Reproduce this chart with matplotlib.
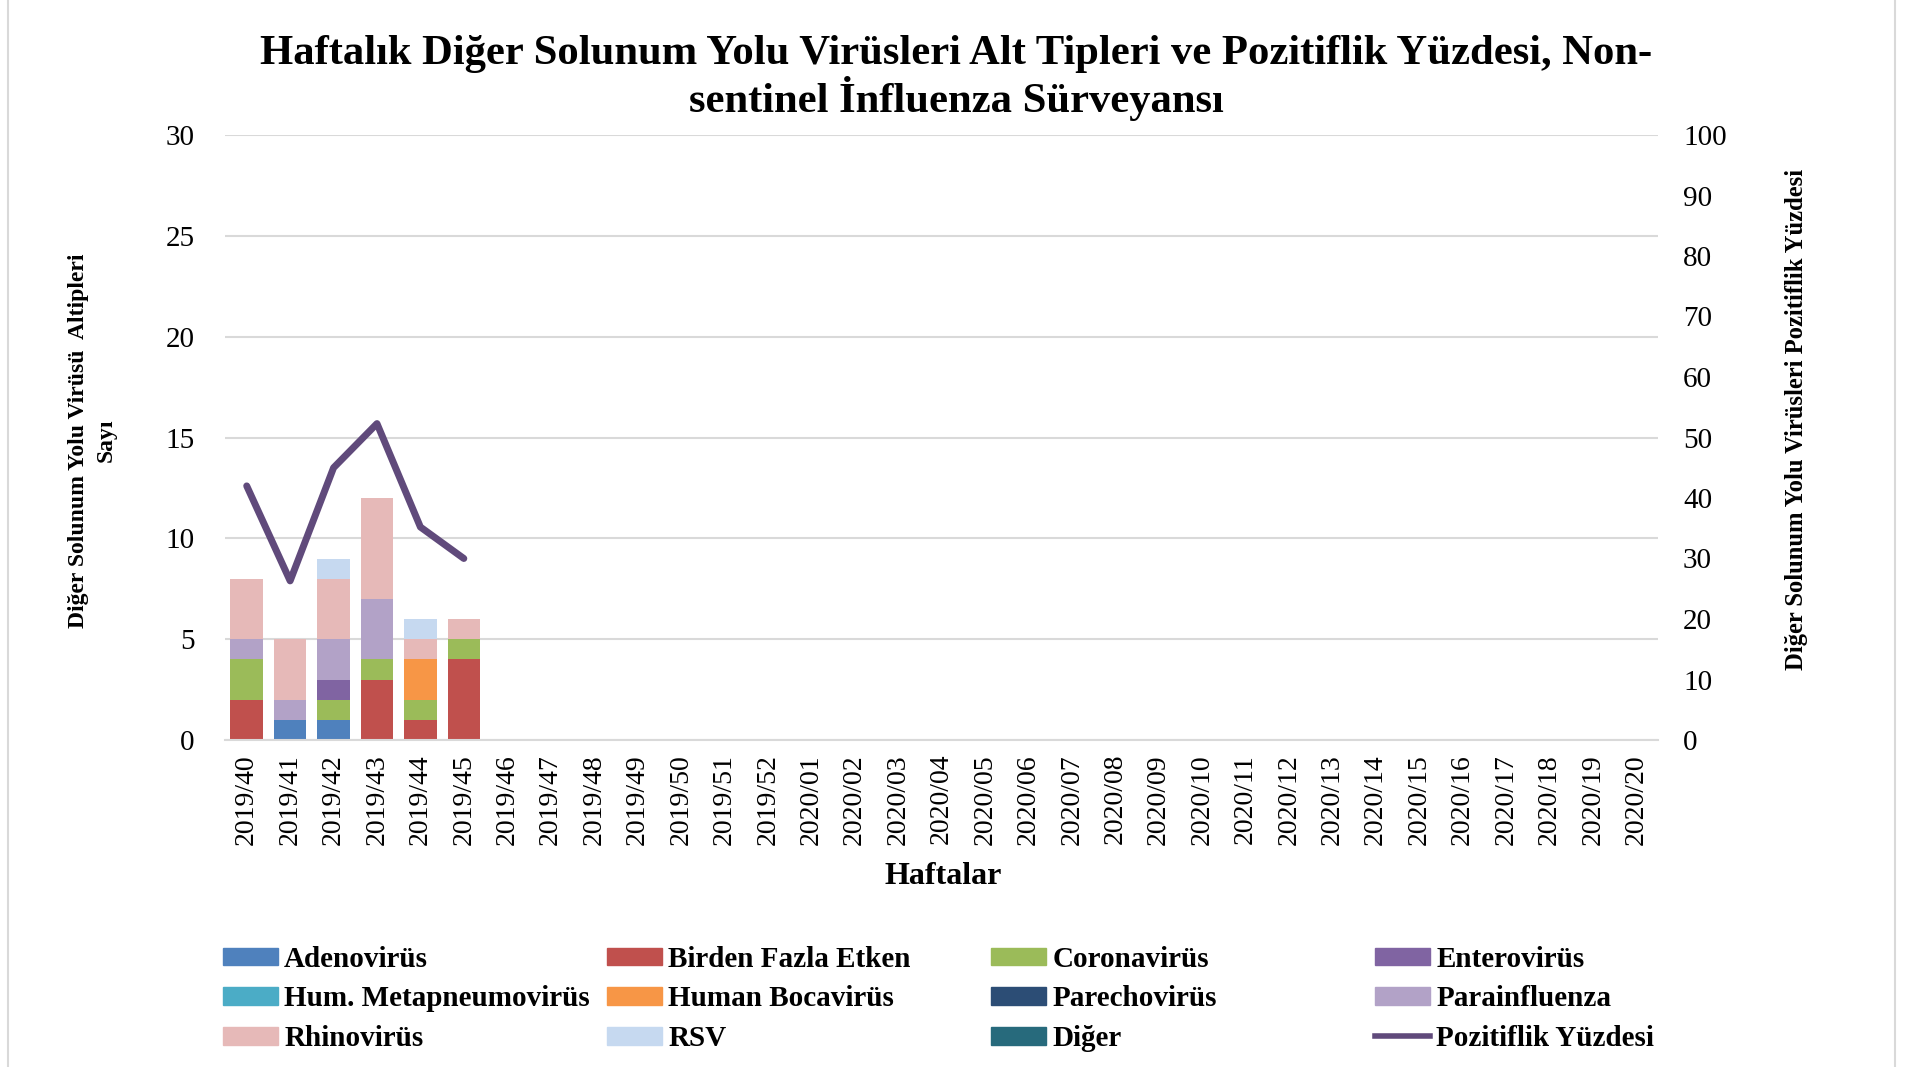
import matplotlib.pyplot as plt
import numpy as np
from matplotlib.patches import Rectangle
from matplotlib.lines import Line2D

weeks = ['2019/%02d' % w for w in range(40, 53)] + ['2020/%02d' % w for w in range(1, 21)]

series_names = ['Adenovirüs', 'Birden Fazla Etken', 'Coronavirüs', 'Enterovirüs',
                'Hum. Metapneumovirüs', 'Human Bocavirüs', 'Parechovirüs', 'Parainfluenza',
                'Rhinovirüs', 'RSV', 'Diğer']
colors = ['#4F81BD', '#C0504D', '#9BBB59', '#8064A2', '#4BACC6', '#F79646',
          '#2C4D75', '#B2A2C7', '#E6B9B8', '#C6D9F0', '#276A7C']

# values for the first six weeks (2019/40 - 2019/45)
adeno      = [0, 1, 1, 0, 0, 0]
birden     = [2, 0, 0, 3, 1, 4]
corona     = [2, 0, 1, 1, 1, 1]
entero     = [0, 0, 1, 0, 0, 0]
hmpv       = [0, 0, 0, 0, 0, 0]
bocavirus  = [0, 0, 0, 0, 2, 0]
parecho    = [0, 0, 0, 0, 0, 0]
parainfl   = [1, 1, 2, 3, 0, 0]
rhino      = [3, 3, 3, 5, 1, 1]
rsv        = [0, 0, 1, 0, 1, 0]
diger      = [0, 0, 0, 0, 0, 0]
pozitiflik = [42, 26.3, 45, 52.3, 35.2, 30]

series = [adeno, birden, corona, entero, hmpv, bocavirus, parecho, parainfl, rhino, rsv, diger]

plt.rcParams['font.family'] = ['Liberation Serif', 'DejaVu Serif']

fig = plt.figure(figsize=(19.12, 10.67), dpi=100)
ax = fig.add_axes([225 / 1912, 1 - 740 / 1067, (1658 - 225) / 1912, (740 - 135) / 1067])

x = np.arange(len(weeks))
n = len(pozitiflik)
bottom = np.zeros(n)
for vals, c in zip(series, colors):
    v = np.array(vals, dtype=float)
    ax.bar(x[:n], v, width=0.75, bottom=bottom, color=c, zorder=2)
    bottom += v

ax.set_xlim(-0.5, len(weeks) - 0.5)
ax.set_ylim(0, 30)
ax.set_yticks(range(0, 31, 5))
ax.grid(axis='y', color='#D9D9D9', linewidth=1.5, zorder=0)
ax.set_xticks(x)
ax.set_xticklabels(weeks, rotation=90, fontsize=20)
ax.tick_params(axis='y', labelsize=21, length=0, pad=22)
ax.tick_params(axis='x', length=0, pad=10)
for s in ['top', 'right', 'left']:
    ax.spines[s].set_visible(False)
ax.spines['bottom'].set_color('#D9D9D9')
ax.spines['bottom'].set_linewidth(1.5)

ax2 = ax.twinx()
ax2.plot(x[:n], pozitiflik, color='#604A7B', linewidth=5, solid_capstyle='round', zorder=3)
ax2.set_ylim(0, 100)
ax2.set_yticks(range(0, 101, 10))
ax2.tick_params(axis='y', labelsize=21, length=0, pad=18)
for s in ax2.spines.values():
    s.set_visible(False)

fig.text(0.5, 0.927, 'Haftalık Diğer Solunum Yolu Virüsleri Alt Tipleri ve Pozitiflik Yüzdesi, Non-\nsentinel İnfluenza Sürveyansı',
         ha='center', va='center', fontsize=30.7, fontweight='bold', linespacing=1.1)

fig.text(92 / 1912, 0.587, 'Diğer Solunum Yolu Virüsü  Altipleri\nSayı', rotation=90,
         ha='center', va='center', fontsize=17, fontweight='bold', linespacing=1.4)
fig.text(1797 / 1912, 0.607, 'Diğer Solunum Yolu Virüsleri Pozitiflik Yüzdesi', rotation=90,
         ha='center', va='center', fontsize=17.7, fontweight='bold')
fig.text(943 / 1912, 1 - 877 / 1067, 'Haftalar', ha='center', va='center',
         fontsize=23, fontweight='bold')

handles = [Rectangle((0, 0), 1, 1, color=c) for c in colors]
handles.append(Line2D([0], [0], color='#604A7B', linewidth=4))
labels = series_names + ['Pozitiflik Yüzdesi']
col_x = [223, 607, 991, 1375]
for c in range(4):
    idx = [c, c + 4, c + 8]
    leg = fig.legend([handles[i] for i in idx], [labels[i] for i in idx], loc='center left',
                     bbox_to_anchor=(col_x[c] / 1912, 1 - 999 / 1067), frameon=False,
                     prop={'size': 21, 'weight': 'bold'}, handlelength=1.9, handleheight=0.55,
                     labelspacing=0.43, handletextpad=0.2, borderpad=0, borderaxespad=0)

fig.patches.append(Rectangle((8 / 1912, -0.01), (1895 - 8) / 1912, 1.02, transform=fig.transFigure,
                             fill=False, edgecolor='#D9D9D9', linewidth=1.5))

fig.savefig('out.png', dpi=100)
